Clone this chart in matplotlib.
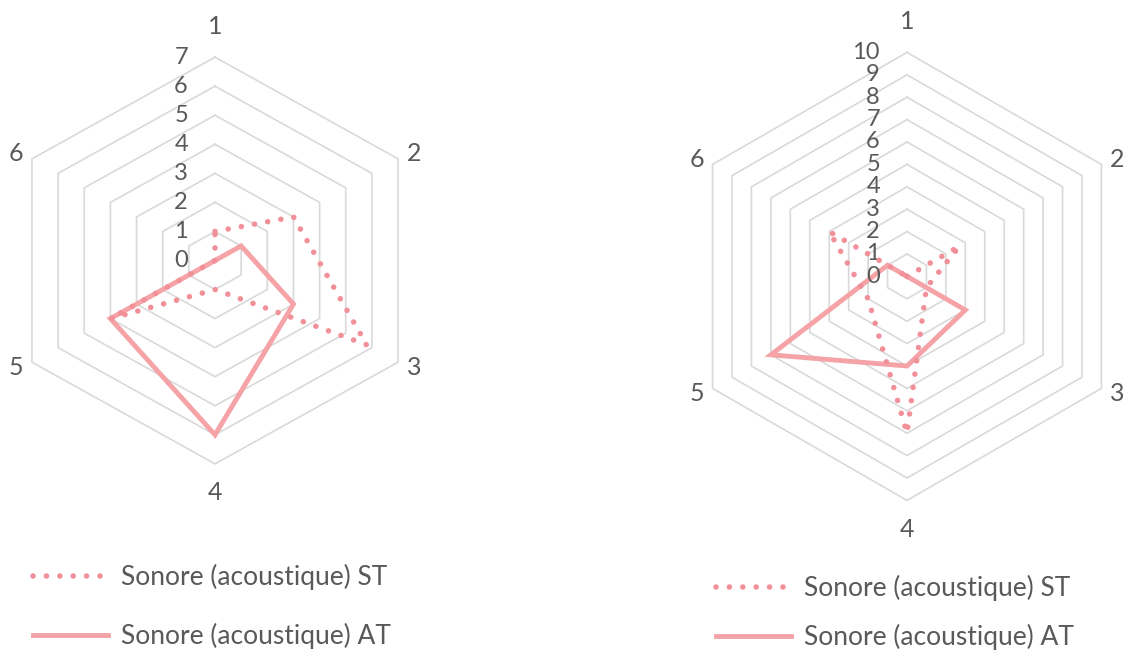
import numpy as np
import matplotlib
matplotlib.use('Agg')
import matplotlib.pyplot as plt

categories = ['1', '2', '3', '4', '5', '6']
series_names = ['Sonore (acoustique) ST', 'Sonore (acoustique) AT']

# left chart, scale 0-7
left_st = [1, 3, 5.8, 1, 4, 0]
left_at = [0, 1, 3, 6, 4, 0]
left_ticks = list(range(0, 8))

# right chart, scale 0-10
right_st = [0, 2.7, 1, 7, 2, 4]
right_at = [0, 0, 3, 4, 7, 1]
right_ticks = list(range(0, 11))

W, H = 1128, 651
GRID = '#D9D9D9'
TEXT = '#595959'
ST_COLOR = '#F2909A'
AT_COLOR = '#F5A3A7'

plt.rcParams['font.family'] = ['Lato', 'DejaVu Sans']
fig = plt.figure(figsize=(W / 100, H / 100), dpi=100)

# offsets (pixels) of the category labels from the outer vertices
label_off = [(0, 31), (16, 5), (16, -5), (0, -29), (-16, -5), (-16, 5)]


def radar(cx, cy, ux, uy, ticks, st, at, leg_xy, leg_spacing):
    # full-figure axes; limits chosen so the centre sits at (cx, cy) px
    ax = fig.add_axes([0, 0, 1, 1])
    ax.set_xlim(-cx / ux, (W - cx) / ux)
    ax.set_ylim(-(H - cy) / uy, cy / uy)
    ax.axis('off')

    n = len(categories)
    ang = np.pi / 2 - np.arange(n + 1) * 2 * np.pi / n
    cos, sin = np.cos(ang), np.sin(ang)
    rmax = ticks[-1]

    # hexagonal grid
    for t in ticks[1:]:
        ax.plot(t * cos, t * sin, color=GRID, lw=1.2, zorder=1)
    for t in ticks:
        ax.annotate(str(t), (0, t), xytext=(-27, 0), textcoords='offset pixels',
                    ha='right', va='center', fontsize=17, color=TEXT)
    for i, c in enumerate(categories):
        ax.annotate(c, (rmax * cos[i], rmax * sin[i]), xytext=label_off[i],
                    textcoords='offset pixels', ha='center', va='center',
                    fontsize=18, color=TEXT)

    at_v = np.append(at, at[0])
    st_v = np.append(st, st[0])
    ax.plot(at_v * cos, at_v * sin, color=AT_COLOR, lw=3.5,
            solid_joinstyle='miter', zorder=2, label=series_names[1])
    ax.plot(st_v * cos, st_v * sin, color=ST_COLOR, lw=4,
            linestyle=(0, (0.01, 2.4)), dash_capstyle='round', zorder=3,
            label=series_names[0])

    h, l = ax.get_legend_handles_labels()
    ax.legend(h[::-1], l[::-1], loc='upper left',
              bbox_to_anchor=(leg_xy[0] / W, 1 - leg_xy[1] / H),
              frameon=False, borderpad=0, borderaxespad=0, fontsize=19,
              handlelength=2.85, handletextpad=0.5, labelspacing=leg_spacing,
              labelcolor=TEXT)


radar(215, 260.5, 30.2, 29.05, left_ticks, left_st, left_at, (33, 564), 1.26)
radar(907, 276.4, 22.45, 22.4, right_ticks, right_st, right_at, (716, 575), 0.86)

fig.savefig('out.png', dpi=100)
